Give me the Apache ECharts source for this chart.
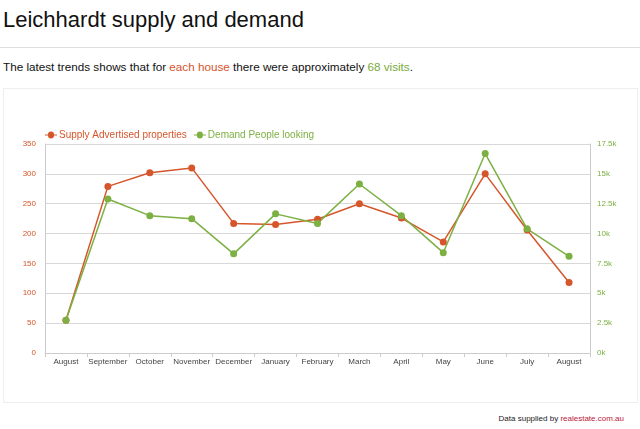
<!DOCTYPE html>
<html>
<head>
<meta charset="utf-8">
<script src="https://cdn.jsdelivr.net/npm/echarts@6/dist/echarts.min.js"></script>
<style>
  html, body { margin: 0; padding: 0; background: #fff; width: 640px; height: 429px; overflow: hidden; font-family: "Liberation Sans", Arial, sans-serif; }
  #title { position: absolute; left: 3px; top: 7px; font-size: 22px; color: #111; white-space: nowrap; }
  #rule { position: absolute; left: 0; top: 47px; width: 640px; height: 1px; background: #ddd; }
  #sub { position: absolute; left: 3px; top: 60px; font-size: 11.7px; color: #111; white-space: nowrap; }
  .sup { color: #d4532a; }
  .dem { color: #78ab3c; }
  #box { position: absolute; left: 3px; top: 88px; width: 633px; height: 313px; border: 1px solid #eee; }
  #chart { position: absolute; left: 3px; top: 88px; width: 634px; height: 314px; }
  #credit { position: absolute; right: 16px; top: 414px; font-size: 8px; color: #222; white-space: nowrap; }
  #credit span { color: #c0203a; }
</style>
</head>
<body>
<div id="title">Leichhardt supply and demand</div>
<div id="rule"></div>
<div id="sub">The latest trends shows that for <span class="sup">each house</span> there were approximately <span class="dem">68 visits</span>.</div>
<div id="box"></div>
<div id="chart"></div>
<div id="credit">Data supplied by <span>realestate.com.au</span></div>
<script>
const categories = ["August","September","October","November","December","January","February","March","April","May","June","July","August"];
const supplyName = "Supply Advertised properties";
const demandName = "Demand People looking";
const supplyValues = [55, 279, 302, 310, 217, 215, 224, 250, 226, 186, 300, 206, 118];
const demandValues = [2750, 12900, 11500, 11250, 8300, 11650, 10850, 14150, 11500, 8400, 16700, 10400, 8100];
const leftTicks = { min: 0, max: 350, interval: 50 };
const rightTicks = { min: 0, max: 17500, interval: 2500 };

const supplyColor = "#d6562b";
const demandColor = "#7cb042";
const lineIcon = 'path://M0,4.5 L3,4.5 A3,3 0 0 1 9,4.5 L12,4.5 L12,5.5 L9,5.5 A3,3 0 0 1 3,5.5 L0,5.5 Z';

const chart = echarts.init(document.getElementById('chart'), null, { renderer: 'canvas' });
chart.setOption({
  animation: false,
  legend: {
    left: 37, top: 37,
    itemWidth: 12, itemHeight: 8, itemGap: 7,
    icon: lineIcon,
    textStyle: { fontFamily: "Liberation Sans, Arial, sans-serif", fontSize: 10, padding: [0, 0, 0, -3] },
    data: [
      { name: supplyName, textStyle: { color: supplyColor } },
      { name: demandName, textStyle: { color: demandColor } }
    ]
  },
  grid: { left: 42, right: 47, top: 56, bottom: 49, containLabel: false },
  xAxis: {
    type: 'category',
    data: categories,
    boundaryGap: true,
    axisLine: { show: true, lineStyle: { color: '#ccc' } },
    axisTick: { show: true, alignWithLabel: false, length: 4, lineStyle: { color: '#ccc' } },
    axisLabel: { color: '#444', fontSize: 8, fontFamily: "Liberation Sans, Arial, sans-serif", margin: 5, interval: 0 }
  },
  yAxis: [
    {
      type: 'value', min: leftTicks.min, max: leftTicks.max, interval: leftTicks.interval,
      position: 'left',
      axisLine: { show: true, lineStyle: { color: '#ccc' } },
      axisTick: { show: false },
      axisLabel: { color: supplyColor, fontSize: 8, fontFamily: "Liberation Sans, Arial, sans-serif", margin: 9 },
      splitLine: { show: true, lineStyle: { color: '#d8d8d8' } }
    },
    {
      type: 'value', min: rightTicks.min, max: rightTicks.max, interval: rightTicks.interval,
      position: 'right',
      axisLine: { show: true, lineStyle: { color: '#ccc' } },
      axisTick: { show: false },
      axisLabel: { color: demandColor, fontSize: 8, fontFamily: "Liberation Sans, Arial, sans-serif", margin: 7,
        formatter: v => (v / 1000) + 'k' },
      splitLine: { show: false }
    }
  ],
  series: [
    {
      name: supplyName, type: 'line', yAxisIndex: 0, data: supplyValues,
      symbol: 'circle', symbolSize: 7,
      lineStyle: { color: supplyColor, width: 1.5 },
      itemStyle: { color: supplyColor }
    },
    {
      name: demandName, type: 'line', yAxisIndex: 1, data: demandValues,
      symbol: 'circle', symbolSize: 7,
      lineStyle: { color: demandColor, width: 1.5 },
      itemStyle: { color: demandColor }
    }
  ]
});
</script>
</body>
</html>
